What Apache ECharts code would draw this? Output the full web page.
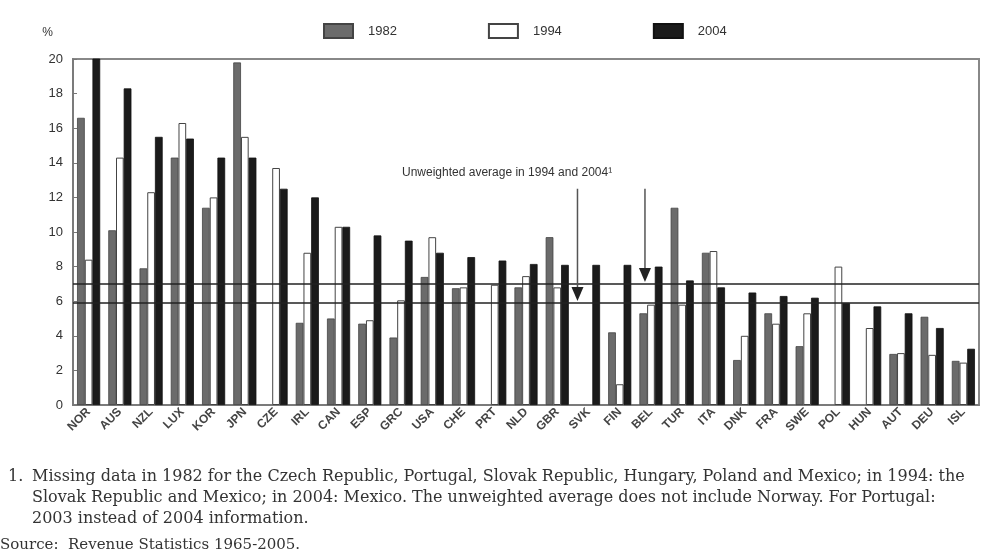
<!DOCTYPE html>
<html><head><meta charset="utf-8">
<script src="https://cdn.jsdelivr.net/npm/echarts@6/dist/echarts.min.js"></script>
<style>html,body{margin:0;padding:0;background:#fff}#c{width:991px;height:555px}</style>
</head><body><div id="c"></div>
<script>
const categories = ['NOR','AUS','NZL','LUX','KOR','JPN','CZE','IRL','CAN','ESP','GRC','USA','CHE','PRT','NLD','GBR','SVK','FIN','BEL','TUR','ITA','DNK','FRA','SWE','POL','HUN','AUT','DEU','ISL'];
const v1982 = [16.6,10.1,7.9,14.3,11.4,19.8,null,4.75,5.0,4.7,3.9,7.4,6.75,null,6.8,9.7,null,4.2,5.3,11.4,8.8,2.6,5.3,3.4,null,null,2.95,5.1,2.55];
const v1994 = [8.4,14.3,12.3,16.3,12.0,15.5,13.7,8.8,10.3,4.9,6.05,9.7,6.8,6.95,7.45,6.8,null,1.2,5.8,5.8,8.9,4.0,4.7,5.3,8.0,4.45,3.0,2.9,2.45];
const v2004 = [20.4,18.3,15.5,15.4,14.3,14.3,12.5,12.0,10.3,9.8,9.5,8.8,8.55,8.35,8.15,8.1,8.1,8.1,8.0,7.2,6.8,6.5,6.3,6.2,5.9,5.7,5.3,4.45,3.25];
const seriesNames = ['1982','1994','2004'];
const yTicks = [0,2,4,6,8,10,12,14,16,18,20];
const averages = [7.0, 5.9];
const arrowTargets = [{cat:'SVK', from:12.5, to:5.9, dx:-11}, {cat:'BEL', from:12.5, to:7.0, dx:-6}];
const noteText = 'Unweighted average in 1994 and 2004\u00B9';
const footLines = [
 'Missing data in 1982 for the Czech Republic, Portugal, Slovak Republic, Hungary, Poland and Mexico; in 1994: the',
 'Slovak Republic and Mexico; in 2004: Mexico. The unweighted average does not include Norway. For Portugal:',
 '2003 instead of 2004 information.'
];
const sourceText = 'Source:  Revenue Statistics 1965-2005.';

const chart = echarts.init(document.getElementById('c'));
const font = 'Liberation Sans';
const serif = 'DejaVu Serif';
const option = {
  animation:false,
  backgroundColor:'#fff',
  textStyle:{fontFamily:font},
  legend:{
    top:18, left:318, itemWidth:29, itemHeight:14, itemGap:91, icon:'rect',
    textStyle:{fontSize:13, color:'#333', padding:[0,0,0,10]},
    data:seriesNames
  },
  grid:{left:73, right:12, top:59, bottom:150, show:true, borderColor:'#888', borderWidth:2},
  xAxis:{
    type:'category', data:categories,
    axisLine:{lineStyle:{color:'#777', width:1.5}},
    axisTick:{show:false},
    axisLabel:{rotate:45, fontSize:12, fontWeight:'bold', color:'#444', margin:5, interval:0}
  },
  yAxis:{
    type:'value', min:0, max:20, interval:2,
    name:'%', nameLocation:'end', nameGap:20,
    nameTextStyle:{fontSize:12, color:'#333', align:'right', padding:[0,20,0,0]},
    axisLine:{show:true, lineStyle:{color:'#777', width:1.5}},
    axisTick:{show:true, inside:true, length:4, lineStyle:{color:'#777'}},
    splitLine:{show:false},
    axisLabel:{fontSize:13, color:'#333', margin:10, formatter:v=>yTicks.includes(v)?String(v):''}
  },
  series:[
    {name:seriesNames[0], type:'bar', data:v1982, barGap:'0%', barCategoryGap:'26%',
     itemStyle:{color:'#6b6b6b', borderColor:'#444', borderWidth:0.8}},
    {name:seriesNames[1], type:'bar', data:v1994, barGap:'0%', barCategoryGap:'26%',
     itemStyle:{color:'#ffffff', borderColor:'#444', borderWidth:1}},
    {name:seriesNames[2], type:'bar', data:v2004, barGap:'0%', barCategoryGap:'26%',
     itemStyle:{color:'#1b1b1b', borderColor:'#111', borderWidth:0.8},
     markLine:{silent:true, symbol:['none','none'], label:{show:false},
       lineStyle:{color:'#222', width:1.5, type:'solid'},
       data:averages.map(v=>({yAxis:v}))}
    }
  ]
};
chart.setOption(option);

const g = [];
arrowTargets.forEach(a=>{
  const p1 = chart.convertToPixel({xAxisIndex:0,yAxisIndex:0},[a.cat,a.from]);
  const p2 = chart.convertToPixel({xAxisIndex:0,yAxisIndex:0},[a.cat,a.to]);
  const x = p1[0]+a.dx;
  g.push({type:'line', shape:{x1:x,y1:p1[1],x2:x,y2:p2[1]-14}, style:{stroke:'#555', lineWidth:1.5}, z:10});
  g.push({type:'polygon', shape:{points:[[x-6,p2[1]-16],[x+6,p2[1]-16],[x,p2[1]-2]]}, style:{fill:'#222'}, z:10});
});
const tp = chart.convertToPixel({xAxisIndex:0,yAxisIndex:0},['FIN',13.4]);
g.push({type:'text', x:402, y:tp[1], style:{text:noteText, font:'12px '+font, fill:'#333', textVerticalAlign:'middle'}, z:10});
g.push({type:'text', x:8, y:469, style:{text:'1.', font:'16px '+serif, fill:'#333'}});
footLines.forEach((t,i)=>{
  g.push({type:'text', x:32, y:469+i*21, style:{text:t, font:'16px '+serif, fill:'#333'}});
});
g.push({type:'text', x:0, y:538, style:{text:sourceText, font:'15px '+serif, fill:'#333'}});
chart.setOption({graphic:g});
</script>
</body></html>
